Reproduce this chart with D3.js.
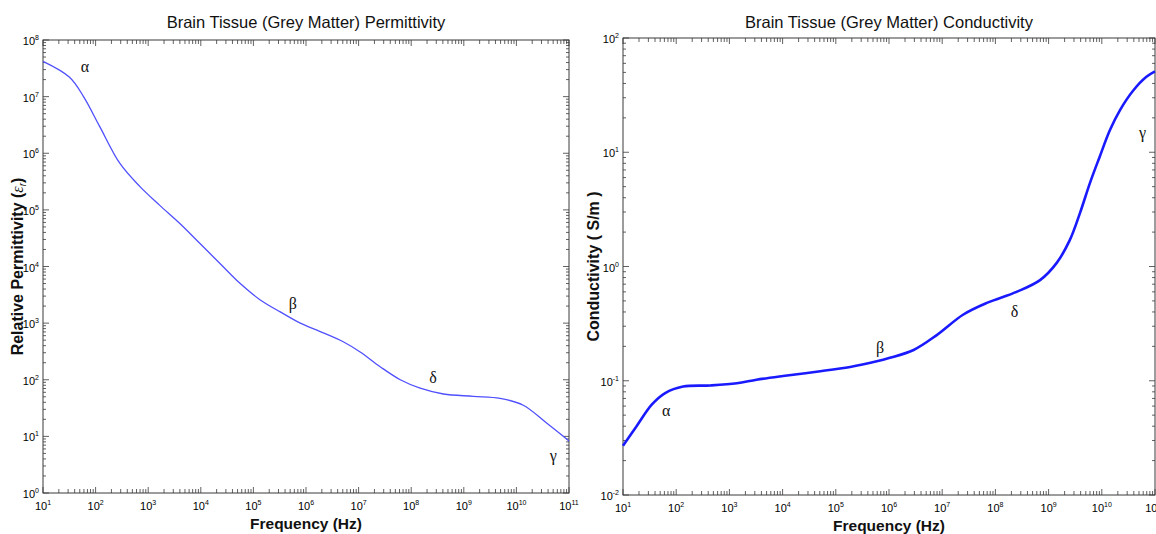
<!DOCTYPE html>
<html>
<head>
<meta charset="utf-8">
<script src="https://cdn.jsdelivr.net/npm/d3@7"></script>
<style>
  body { margin: 0; background: #fff; }
  svg { display: block; font-family: "Liberation Sans", Arial, sans-serif; }
</style>
</head>
<body>
<svg id="chart" width="1156" height="534"></svg>
<script>
// frequency (Hz) and relative permittivity
const permFreq = [10, 32, 59, 120, 290, 690, 1660, 4000, 9550, 23400, 56200, 1.35e5, 3.24e5, 7.8e5,
  1.86e6, 5.1e6, 1.07e7, 2.57e7, 6.2e7, 1.48e8, 4.1e8, 1.51e9, 4.9e9, 1.35e10, 3.8e10, 1e11];
const permValue = [4.2e7, 2.2e7, 1.0e7, 2.95e6, 6.6e5, 2.6e5, 1.2e5, 5.75e4, 2.57e4, 1.12e4, 5000, 2570, 1580, 1000,
  710, 468, 309, 170, 100, 71, 56, 51, 47, 35.5, 17, 8.3];

// frequency (Hz) and conductivity (S/m)
const condFreq = [10, 18, 35, 62, 135, 440, 1380, 3240, 10200, 43600, 1.86e5, 5.9e5, 1e6, 2.9e6, 7.9e6,
  2.5e7, 6.9e7, 2.5e8, 6.9e8, 1.41e9, 2.5e9, 3.9e9, 6.0e9, 9.1e9, 1.41e10, 2.2e10, 3.9e10, 6.9e10, 1e11];
const condValue = [0.027, 0.040, 0.062, 0.078, 0.089, 0.091, 0.095, 0.102, 0.110, 0.120, 0.132, 0.148, 0.158, 0.186, 0.251,
  0.38, 0.48, 0.60, 0.76, 1.07, 1.70, 2.95, 5.4, 9.1, 15.5, 23.4, 34.7, 45.7, 51];

// dispersion region labels
const regionNames = ["α", "β", "δ", "γ"];
const permLabelFreq = [63, 5.6e5, 2.6e8, 5e10];
const permLabelValue = [3.3e7, 2200, 107, 4.5];
const condLabelFreq = [65, 6.8e5, 2.3e8, 5.8e10];
const condLabelValue = [0.054, 0.195, 0.40, 14.8];

// axis tick exponents
const xExponents = [1, 2, 3, 4, 5, 6, 7, 8, 9, 10, 11];
const permExponents = [0, 1, 2, 3, 4, 5, 6, 7, 8];
const condExponents = [-2, -1, 0, 1, 2];

const svg = d3.select('#chart');

const drawPanel = (cfg) => {
    const x = d3.scaleLog().domain([1e1, 1e11]).range([cfg.left, cfg.right]);
    const y = d3.scaleLog().domain(cfg.yDomain).range([cfg.bottom, cfg.top]);
    const g = svg.append('g');
    const axisColor = '#3a3a3a';

    // minor + major ticks on all four sides
    const xTicks = [];
    for (let e = 1; e < 11; e++) for (let m = 1; m < 10; m++) xTicks.push({ v: m * Math.pow(10, e), major: m == 1 });
    xTicks.push({ v: 1e11, major: true });
    const yTicks = [];
    const [y0, y1] = cfg.yDomain.map(Math.log10);
    for (let e = y0; e < y1; e++) for (let m = 1; m < 10; m++) yTicks.push({ v: m * Math.pow(10, e), major: m == 1 });
    yTicks.push({ v: Math.pow(10, y1), major: true });

    g.selectAll('.xt').data(xTicks).join('line')
        .attr('x1', d => x(d.v)).attr('x2', d => x(d.v))
        .attr('y1', cfg.bottom).attr('y2', d => cfg.bottom - (d.major ? 6 : 4))
        .attr('stroke', axisColor).attr('stroke-width', 0.8);
    g.selectAll('.xtt').data(xTicks).join('line')
        .attr('x1', d => x(d.v)).attr('x2', d => x(d.v))
        .attr('y1', cfg.top).attr('y2', d => cfg.top + (d.major ? 6 : 4))
        .attr('stroke', axisColor).attr('stroke-width', 0.8);
    g.selectAll('.yt').data(yTicks).join('line')
        .attr('y1', d => y(d.v)).attr('y2', d => y(d.v))
        .attr('x1', cfg.left).attr('x2', d => cfg.left + (d.major ? 6 : 3))
        .attr('stroke', axisColor).attr('stroke-width', 0.8);
    g.selectAll('.ytr').data(yTicks).join('line')
        .attr('y1', d => y(d.v)).attr('y2', d => y(d.v))
        .attr('x1', cfg.right).attr('x2', d => cfg.right - (d.major ? 6 : 3))
        .attr('stroke', axisColor).attr('stroke-width', 0.8);

    g.append('rect')
        .attr('x', cfg.left).attr('y', cfg.top)
        .attr('width', cfg.right - cfg.left).attr('height', cfg.bottom - cfg.top)
        .attr('fill', 'none').attr('stroke', axisColor).attr('stroke-width', 1);

    // tick labels as 10 with superscript
    const xl = g.selectAll('.xl').data(xExponents).join('text')
        .attr('x', d => x(Math.pow(10, d))).attr('y', cfg.bottom + 17)
        .attr('text-anchor', 'middle').attr('font-size', 11).attr('fill', '#000');
    xl.append('tspan').text('10');
    xl.append('tspan').attr('dy', -5).attr('font-size', 7).text(d => d);

    const yl = g.selectAll('.yl').data(cfg.yExponents).join('text')
        .attr('x', cfg.left - 4).attr('y', d => y(Math.pow(10, d)) + 5)
        .attr('text-anchor', 'end').attr('font-size', 11).attr('fill', '#000');
    yl.append('tspan').text('10');
    yl.append('tspan').attr('dy', -5).attr('font-size', 7).text(d => d);

    // curve
    const pts = cfg.freq.map((f, i) => [f, cfg.value[i]]);
    g.append('path')
        .datum(pts)
        .attr('fill', 'none')
        .attr('stroke', cfg.color)
        .attr('stroke-width', cfg.width)
        .attr('d', d3.line().x(d => x(d[0])).y(d => y(d[1])).curve(d3.curveCatmullRom));

    // region labels
    g.selectAll('.rl').data(regionNames).join('text')
        .attr('x', (d, i) => x(cfg.labelFreq[i])).attr('y', (d, i) => y(cfg.labelValue[i]) + 5)
        .attr('text-anchor', 'middle')
        .attr('font-family', '"Liberation Serif", "DejaVu Serif", serif')
        .attr('font-size', 16).attr('fill', '#111')
        .text(d => d);

    // titles
    g.append('text')
        .attr('x', (cfg.left + cfg.right) / 2).attr('y', 28)
        .attr('text-anchor', 'middle').attr('font-size', 16.5).attr('fill', '#111')
        .text(cfg.title);
    g.append('text')
        .attr('x', (cfg.left + cfg.right) / 2).attr('y', cfg.bottom + 36)
        .attr('text-anchor', 'middle').attr('font-size', 15.5).attr('font-weight', 'bold').attr('fill', '#111')
        .text('Frequency (Hz)');
    const yt = g.append('text')
        .attr('transform', `translate(${cfg.yLabelX},${(cfg.top + cfg.bottom) / 2}) rotate(-90)`)
        .attr('text-anchor', 'middle').attr('font-size', 16).attr('font-weight', 'bold').attr('fill', '#111');
    cfg.yLabel(yt);
};

drawPanel({
    left: 43, right: 569, top: 40, bottom: 493,
    yDomain: [1e0, 1e8], yExponents: permExponents,
    freq: permFreq, value: permValue, color: '#5050ff', width: 1.3,
    labelFreq: permLabelFreq, labelValue: permLabelValue,
    title: 'Brain Tissue (Grey Matter) Permittivity',
    yLabelX: 23,
    yLabel: t => {
        t.append('tspan').text('Relative Permittivity (');
        t.append('tspan').attr('font-family', '"Liberation Serif", serif').attr('font-style', 'italic').attr('font-weight', 'normal').text('ε');
        t.append('tspan').attr('font-style', 'italic').attr('font-weight', 'normal').attr('font-size', 10).attr('dy', 3).text('r');
        t.append('tspan').attr('dy', -3).text(')');
    }
});

drawPanel({
    left: 623, right: 1155, top: 38, bottom: 495,
    yDomain: [1e-2, 1e2], yExponents: condExponents,
    freq: condFreq, value: condValue, color: '#1a1aff', width: 2.6,
    labelFreq: condLabelFreq, labelValue: condLabelValue,
    title: 'Brain Tissue (Grey Matter) Conductivity',
    yLabelX: 599,
    yLabel: t => t.text('Conductivity ( S/m )')
});
</script>
</body>
</html>
